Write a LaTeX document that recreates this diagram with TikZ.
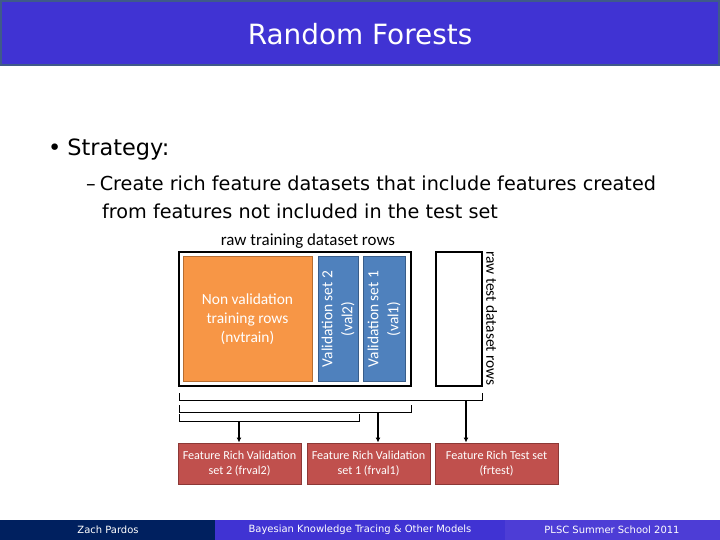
\documentclass[tikz,border=0pt]{standalone}
\usepackage{fontspec}
\usetikzlibrary{arrows.meta}
\setmainfont{DejaVu Sans}
\newfontfamily\calfont{Carlito}
\begin{document}
\begin{tikzpicture}[x=1bp,y=-1bp,
  blk/.style={draw=black,line width=1.5bp,fill=white},
  org/.style={fill=orgc,draw=orgd,line width=1bp},
  blu/.style={fill=bluc,draw=blud,line width=1bp},
  red/.style={fill=redc,draw=redd,line width=1bp,text=white,font=\calfont\fontsize{12.2}{14.5}\selectfont,align=center},
  brk/.style={line width=1bp},
  arr/.style={line width=1.5bp,-{Latex[length=5bp,width=5bp]}}]
\definecolor{hblue}{HTML}{4033D3}
\definecolor{hbord}{HTML}{3F5A8A}
\definecolor{navy}{HTML}{00205F}
\definecolor{fblue3}{HTML}{4D3DD6}
\definecolor{orgc}{HTML}{F79646}
\definecolor{orgd}{HTML}{B66D31}
\definecolor{bluc}{HTML}{4F81BD}
\definecolor{blud}{HTML}{385D8A}
\definecolor{redc}{HTML}{C0504D}
\definecolor{redd}{HTML}{8C3836}
\useasboundingbox[fill=white] (0,0) rectangle (720,540);
\draw[fill=hblue,draw=hbord,line width=2bp] (1,1) rectangle (719,65);
\node[text=white,font=\fontsize{28}{30}\selectfont] (title) at (360,34) {Random Forests};
\node[anchor=west,font=\fontsize{22.5}{26}\selectfont,inner sep=0] (b1) at (48,150) {•\hspace{6bp}Strategy:};
\node[anchor=north west,align=left,font=\fontsize{19.3}{28}\selectfont,inner sep=0] (b2) at (86,176) {–\hspace{4bp}Create rich feature datasets that include features created\\\hspace{16bp}from features not included in the test set};
\node[font=\calfont\fontsize{17}{19}\selectfont] (rt) at (308,241) {raw training dataset rows};
\draw[blk] (179,252) rectangle (411,386);
\node[org,minimum width=129bp,minimum height=124bp,text=white,align=center,font=\calfont\fontsize{15.5}{19}\selectfont] (nv) at (247.5,319) {Non validation\\training rows\\(nvtrain)};
\node[blu,minimum width=124bp,minimum height=40bp,rotate=90,text=white,align=center,font=\calfont\fontsize{15.5}{20}\selectfont] (v2) at (338,319) {Validation set 2\\(val2)};
\node[blu,minimum width=124bp,minimum height=42bp,rotate=90,text=white,align=center,font=\calfont\fontsize{15.5}{20}\selectfont] (v1) at (384,319) {Validation set 1\\(val1)};
\draw[blk] (436,252) rectangle (482,386);
\node[rotate=-90,anchor=south west,font=\calfont\fontsize{15.5}{17}\selectfont,inner sep=1bp] (tt) at (485,250) {raw test dataset rows};
\coordinate (l1a) at (179,393); \coordinate (l1b) at (482,393);
\draw[brk] (l1a) -- (179,400) -- (482,400) -- (l1b);
\draw[brk] (179,405) -- (179,412) -- (411,412) -- (411,405);
\draw[brk] (179,414) -- (179,421) -- (359,421) -- (359,414);
\node[red,minimum width=123bp,minimum height=41bp] (f2) at (239.5,463.5) {Feature Rich Validation\\set 2 (frval2)};
\node[red,minimum width=123bp,minimum height=41bp] (f1) at (368.5,463.5) {Feature Rich Validation\\set 1 (frval1)};
\node[red,minimum width=123bp,minimum height=41bp] (ft) at (496.5,463.5) {Feature Rich Test set\\(frtest)};
\coordinate (a2) at (239,421); \coordinate (a1) at (378,412); \coordinate (at) at (466,400);
\draw[arr] (a2) -- (a2 |- f2.north);
\draw[arr] (a1) -- (a1 |- f1.north);
\draw[arr] (at) -- (at |- ft.north);
\fill[navy] (0,520) rectangle (215,540);
\fill[hblue] (215,520) rectangle (505,540);
\fill[fblue3] (505,520) rectangle (720,540);
\node[text=white,font=\fontsize{10}{11}\selectfont] (z) at (108,530) {Zach Pardos};
\node[text=white,font=\fontsize{10}{11}\selectfont] (bk) at (360,530) {Bayesian Knowledge Tracing \& Other Models};
\node[text=white,font=\fontsize{10}{11}\selectfont] (pl) at (612,530) {PLSC Summer School 2011};
\end{tikzpicture}
\end{document}
